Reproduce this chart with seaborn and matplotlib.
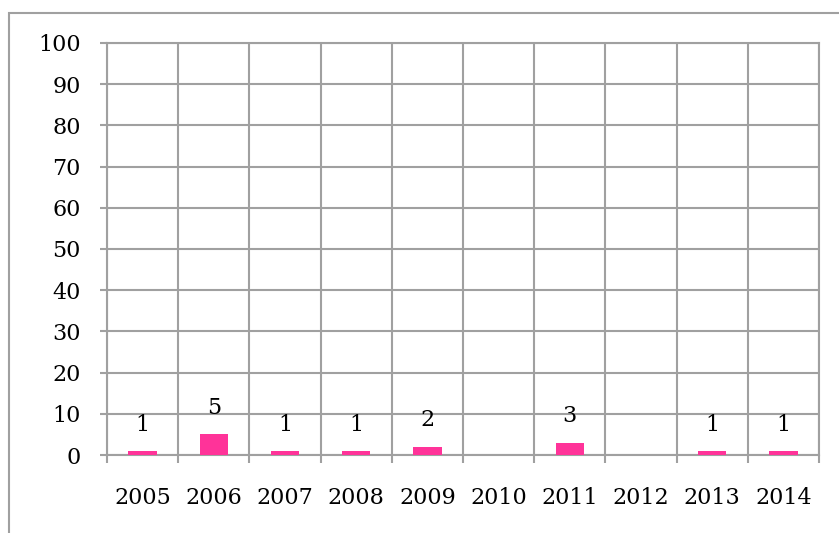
import numpy as np
import pandas as pd
import seaborn as sns
import matplotlib.pyplot as plt
from matplotlib.patches import Rectangle

years = ['2005', '2006', '2007', '2008', '2009', '2010', '2011', '2012', '2013', '2014']
counts = [1, 5, 1, 1, 2, 0, 3, 0, 1, 1]
y_ticks = [0, 10, 20, 30, 40, 50, 60, 70, 80, 90, 100]

grey = '#A0A0A0'
pink = '#FF3399'

sns.set_style('white')
plt.rcParams['font.family'] = ['DejaVu Serif']
plt.rcParams['text.color'] = 'black'
plt.rcParams['xtick.labelcolor'] = 'black'
plt.rcParams['ytick.labelcolor'] = 'black'
fs = 16

df = pd.DataFrame({'year': years, 'count': counts})

fig = plt.figure(figsize=(8.39, 5.33), dpi=100)
ax = fig.add_axes([107/839, 1 - 455/533, (819 - 107)/839, (455 - 43)/533])

sns.barplot(data=df, x='year', y='count', color=pink, width=0.4,
            saturation=1, linewidth=0, ax=ax, zorder=3)

ax.set_xlim(-0.5, len(years) - 0.5)
ax.set_ylim(0, 100)
ax.set_yticks(y_ticks)
ax.set_xlabel('')
ax.set_ylabel('')

# category boundaries as minor ticks / vertical grid
ax.set_xticks(np.arange(-0.5, len(years)), minor=True)
ax.tick_params(axis='x', which='major', length=0, pad=23, labelsize=fs, labelcolor='black')
ax.tick_params(axis='x', which='minor', length=6, width=1.5, color=grey, direction='out', bottom=True)
ax.tick_params(axis='y', which='major', length=5, width=1.5, color=grey, pad=14, labelsize=fs,
               labelcolor='black', left=True)
ax.grid(True, axis='y', which='major', color=grey, lw=1.5, zorder=0)
ax.grid(True, axis='x', which='minor', color=grey, lw=1.5, zorder=0)
ax.grid(False, axis='x', which='major')
ax.set_axisbelow(True)
for s in ax.spines.values():
    s.set_color(grey)
    s.set_linewidth(1.5)

for i, v in enumerate(counts):
    if v > 0:
        ax.annotate(str(v), (i, v), xytext=(0, 11), textcoords='offset points',
                    ha='center', va='bottom', fontsize=fs, color='black')

# outer chart border
fig.patches.append(Rectangle((9/839, -0.1), 1.2, (533 - 13)/533 + 0.1,
                             transform=fig.transFigure, fill=False,
                             edgecolor=grey, lw=1.5))

fig.savefig('out.png', dpi=100)
